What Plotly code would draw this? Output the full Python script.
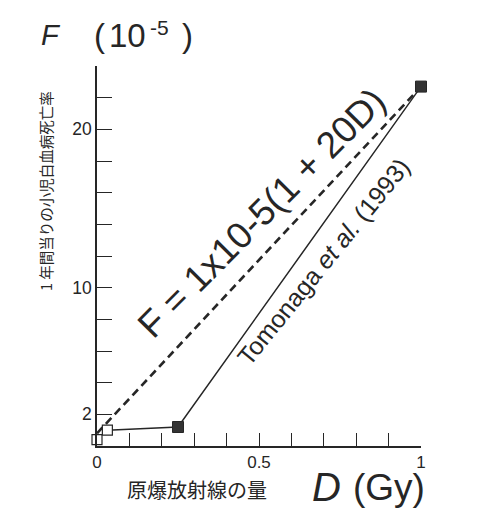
import plotly.graph_objects as go

# ---- data ----
dose_open = [0.0, 0.032]          # open squares
rate_open = [0.4, 1.0]
dose_filled = [0.25, 1.0]         # filled squares
rate_filled = [1.2, 22.7]
dose_solid = [0.032, 0.25, 1.0]   # Tomonaga et al. (1993) line
rate_solid = [1.0, 1.2, 22.7]
dose_dashed = [0.0, 1.0]          # F = 1x10-5(1 + 20D)
rate_dashed = [0.8, 22.7]

x_tickvals = [0.0, 0.1, 0.2, 0.3, 0.4, 0.5, 0.6, 0.7, 0.8, 0.9, 1.0]
x_ticktext = ["0", "", "", "", "", "0.5", "", "", "", "", "1"]
y_tickvals = [2, 4, 6, 8, 10, 12, 14, 16, 18, 20, 22, 24]
y_ticktext = ["2", "", "", "", "10", "", "", "", "", "20", "", ""]

INK = "#262626"
FONT = "Liberation Sans, Arial, Helvetica, sans-serif"
JP = "Noto Sans CJK JP, sans-serif"

OFF = 8                      # page body margin of the html page
WIN_W, WIN_H = 500, 514
W, H = WIN_W - OFF, WIN_H - OFF
# plot area in window pixels
X0, X1, Y0, Y1 = 97, 421, 66, 446
L, T = X0 - OFF, Y0 - OFF
PW, PH = X1 - X0, Y1 - Y0
R, B = W - L - PW, H - T - PH


def px(x):
    return (x - X0) / PW


def py(y):
    return (Y1 - y) / PH


fig = go.Figure()
fig.add_trace(go.Scatter(x=dose_dashed, y=rate_dashed, mode="lines",
                         line=dict(color=INK, width=2.6, dash="8px,5px"),
                         cliponaxis=False, hoverinfo="skip"))
fig.add_trace(go.Scatter(x=dose_solid, y=rate_solid, mode="lines",
                         line=dict(color=INK, width=1.5),
                         cliponaxis=False, hoverinfo="skip"))
fig.add_trace(go.Scatter(x=dose_open, y=rate_open, mode="markers",
                         marker=dict(symbol="square", size=10, color="white",
                                     line=dict(color=INK, width=1.2)),
                         cliponaxis=False))
fig.add_trace(go.Scatter(x=dose_filled, y=rate_filled, mode="markers",
                         marker=dict(symbol="square", size=11, color="#333333",
                                     line=dict(color=INK, width=1)),
                         cliponaxis=False))

annotations = [
    # y-axis unit label "F (10-5)"
    dict(text="<i>F</i>", x=px(39), y=py(35), xanchor="left", yanchor="middle",
         font=dict(size=29, family=FONT, color=INK)),
    dict(text="(", x=px(92), y=py(35), xanchor="left", yanchor="middle",
         font=dict(size=33, family=FONT, color=INK)),
    dict(text="10", x=px(107), y=py(35), xanchor="left", yanchor="middle",
         font=dict(size=33, family=FONT, color=INK)),
    dict(text="-5", x=px(148), y=py(27), xanchor="left", yanchor="middle",
         font=dict(size=21, family=FONT, color=INK)),
    dict(text=")", x=px(180), y=py(35), xanchor="left", yanchor="middle",
         font=dict(size=33, family=FONT, color=INK)),
    # x-axis unit label "D (Gy)"
    dict(text="<i>D</i>", x=px(310), y=py(487), xanchor="left", yanchor="middle",
         font=dict(size=40, family=FONT, color=INK)),
    dict(text="(Gy)", x=px(351), y=py(487), xanchor="left", yanchor="middle",
         font=dict(size=37, family=FONT, color=INK)),
    dict(text="原爆放射線の量", x=px(197), y=py(490), xanchor="center", yanchor="middle",
         font=dict(size=20, family=JP, color=INK)),
    dict(text="1 年間当りの小児白血病死亡率", x=px(45), y=py(191), xanchor="center",
         yanchor="middle", textangle=-90,
         font=dict(size=14.5, family=JP, color=INK)),
    dict(text="F = 1x10-5(1 + 20D)", x=px(261), y=py(213), xanchor="center",
         yanchor="middle", textangle=-45.2,
         font=dict(size=37, family=FONT, color=INK)),
    dict(text="Tomonaga <i>et al.</i> (1993)", x=px(323), y=py(262), xanchor="center",
         yanchor="middle", textangle=-51,
         font=dict(size=25, family=FONT, color=INK)),
]
for a in annotations:
    a.update(xref="paper", yref="paper", showarrow=False)

fig.update_layout(
    width=W, height=H,
    margin=dict(l=L, r=R, t=T, b=B, pad=0),
    paper_bgcolor="white", plot_bgcolor="white",
    showlegend=False,
    annotations=annotations,
    xaxis=dict(range=[0, 1], tickvals=x_tickvals, ticktext=x_ticktext,
               ticks="inside", ticklen=13, tickwidth=1.4, tickcolor=INK,
               showline=True, linecolor=INK, linewidth=1.5,
               showgrid=False, zeroline=False, automargin=False,
               tickfont=dict(size=17, family=FONT, color=INK)),
    yaxis=dict(range=[0, 24], tickvals=y_tickvals, ticktext=y_ticktext,
               ticks="inside", ticklen=15, tickwidth=1.4, tickcolor=INK,
               showline=True, linecolor=INK, linewidth=1.5,
               showgrid=False, zeroline=False, automargin=False,
               tickfont=dict(size=17.5, family=FONT, color=INK)),
)

fig.write_html("out.html")
